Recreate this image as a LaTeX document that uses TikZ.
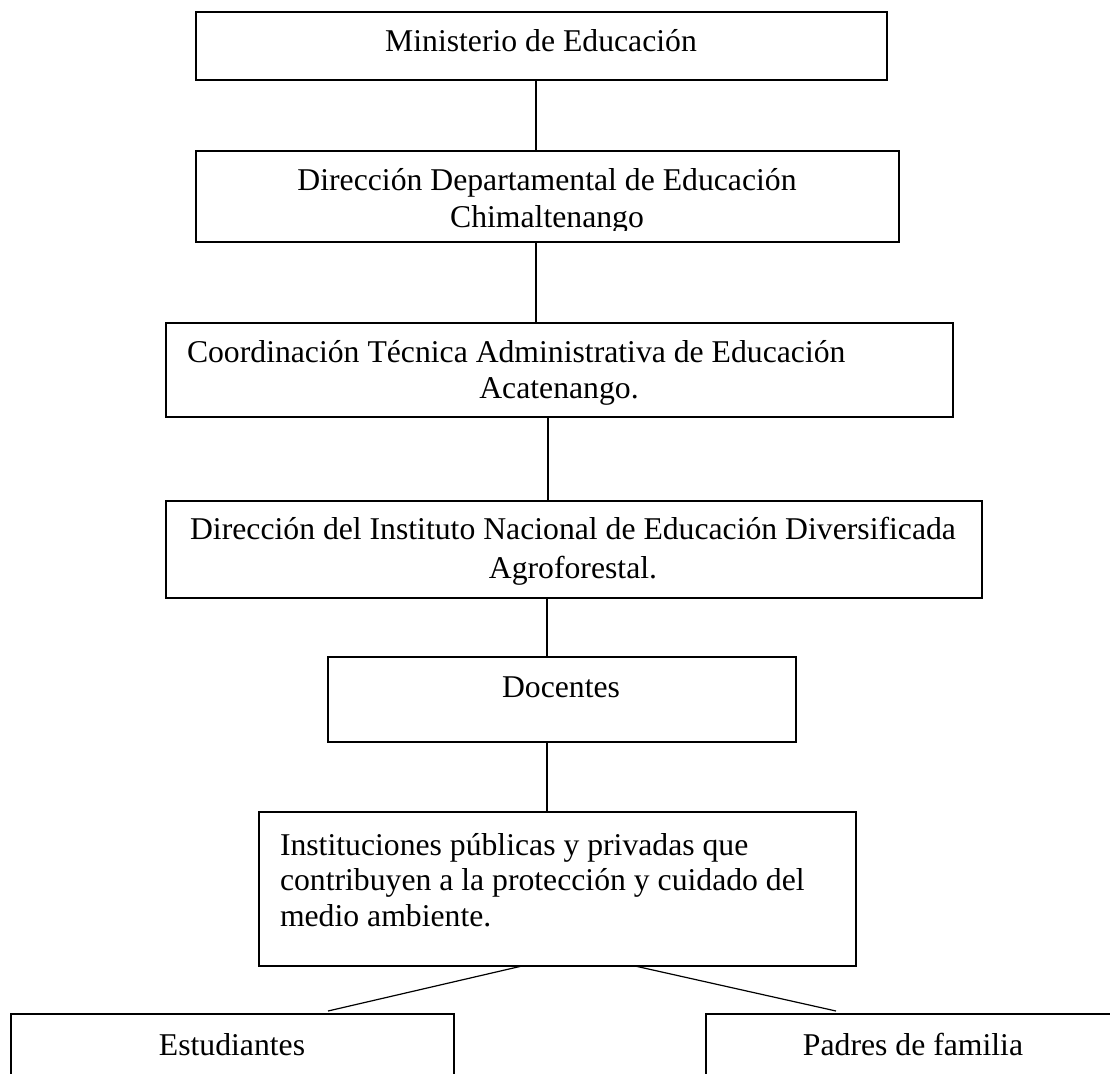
\documentclass[tikz,border=0pt]{standalone}
\usepackage{fontspec}
\setmainfont{Liberation Serif}
\begin{document}
\begin{tikzpicture}[x=1pt,y=-1pt,
  box/.style={draw, line width=1.5pt, rectangle, inner sep=0pt, outer sep=0pt},
  lbl/.style={inner sep=0pt, outer sep=0pt, font=\fontsize{31.7pt}{35.5pt}\selectfont},
  link/.style={line width=1.2pt}]
\clip (0,0) rectangle (1110,1073);
\fill[white] (0,0) rectangle (1110,1073);
% boxes
\node[box, minimum width=691pt, minimum height=68pt] (b1) at (541.5,46) {};
\node[box, minimum width=703pt, minimum height=91pt] (b2) at (547.5,196.5) {};
\node[box, minimum width=787pt, minimum height=94pt] (b3) at (559.5,370) {};
\node[box, minimum width=816pt, minimum height=97pt] (b4) at (574,549.5) {};
\node[box, minimum width=468pt, minimum height=85pt] (b5) at (562,699.5) {};
\node[box, minimum width=597pt, minimum height=154pt] (b6) at (557.5,889) {};
\node[box, minimum width=443pt, minimum height=86pt] (b7) at (232.5,1057) {};
\node[box, minimum width=414pt, minimum height=86pt] (b8) at (913,1057) {};
% texts
\node[lbl, anchor=base] (t1) at (541,52) {Ministerio de Educación};
\node[lbl, anchor=base] (t2a) at (547,190.5) {Dirección Departamental de Educación};
\begin{scope}
\clip (196,151) rectangle (899,230);
\node[lbl, anchor=base] (t2b) at (547,227) {Chimaltenango};
\end{scope}
\node[lbl, anchor=base west] (t3a) at (187,362) {Coordinación Técnica Administrativa de Educación};
\node[lbl, anchor=base] (t3b) at (559,398) {Acatenango.};
\node[lbl, anchor=base] (t4a) at (573,539) {Dirección del Instituto Nacional de Educación Diversificada};
\node[lbl, anchor=base] (t4b) at (573,578) {Agroforestal.};
\node[lbl, anchor=base] (t5) at (561,697) {Docentes};
\node[lbl, anchor=base west] (t6a) at (280,855) {Instituciones públicas y privadas que};
\node[lbl, anchor=base west] (t6b) at (280,890.5) {contribuyen a la protección y cuidado del};
\node[lbl, anchor=base west] (t6c) at (280,926) {medio ambiente.};
\node[lbl, anchor=base] (t7) at (232,1055) {Estudiantes};
\node[lbl, anchor=base] (t8) at (913,1055) {Padres de familia};
% connector x positions
\coordinate (xa) at (536,0);
\coordinate (xb) at (548,0);
\coordinate (xc) at (547,0);
\draw[link] (b1.south -| xa) -- (b2.north -| xa);
\draw[link] (b2.south -| xa) -- (b3.north -| xa);
\draw[link] (b3.south -| xb) -- (b4.north -| xb);
\draw[link] (b4.south -| xc) -- (b5.north -| xc);
\draw[link] (b5.south -| xc) -- (b6.north -| xc);
% diagonal connectors
\coordinate (d1s) at (522,966);
\coordinate (d1e) at (328,1011);
\coordinate (d2s) at (635,966);
\coordinate (d2e) at (836,1011);
\draw[link] (d1s) -- (d1e);
\draw[link] (d2s) -- (d2e);
\end{tikzpicture}
\end{document}
